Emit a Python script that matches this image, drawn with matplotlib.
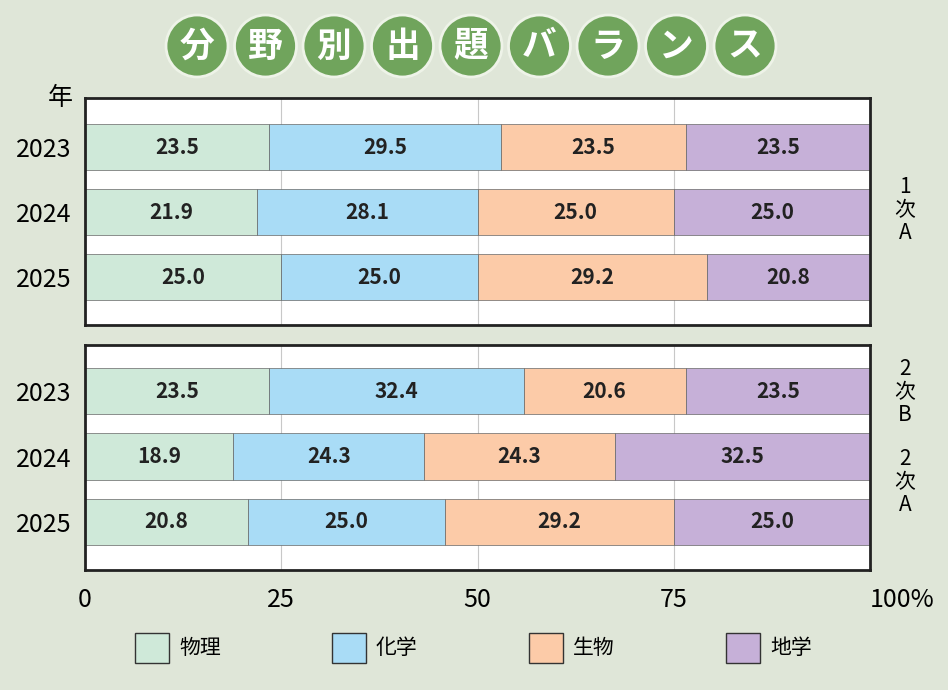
import matplotlib
matplotlib.use("Agg")
import matplotlib.pyplot as plt
from matplotlib.patches import Circle, Rectangle

plt.rcParams["font.family"] = ["Noto Sans CJK JP", "DejaVu Sans"]

BG = "#dfe6d8"
COLORS = ["#cfe9d9", "#a9dcf6", "#fccba8", "#c6b0d8"]
FIELDS = ["物理", "化学", "生物", "地学"]
YEARS = ["2023", "2024", "2025"]
TOP = [[23.5, 29.5, 23.5, 23.5], [21.9, 28.1, 25.0, 25.0], [25.0, 25.0, 29.2, 20.8]]
BOTTOM = [[23.5, 32.4, 20.6, 23.5], [18.9, 24.3, 24.3, 32.5], [20.8, 25.0, 29.2, 25.0]]
TICKS = [0, 25, 50, 75, 100]
TICK_LABELS = ["0", "25", "50", "75", "100%"]
TITLE = "分野別出題バランス"

W, H = 948, 690
fig = plt.figure(figsize=(W / 100, H / 100), dpi=100, facecolor=BG)


def px_axes(x0, y0, x1, y1):
    return fig.add_axes([x0 / W, 1 - y1 / H, (x1 - x0) / W, (y1 - y0) / H])


def draw_panel(ax, data, ytop, ybot):
    ax.set_facecolor("white")
    ax.set_xlim(0, 100)
    ax.set_ylim(ybot, ytop)
    for t in TICKS[1:-1]:
        ax.axvline(t, color="#c8c8c8", lw=0.8, zorder=0)
    for i, row in enumerate(data):
        left = 0
        for v, c in zip(row, COLORS):
            ax.barh(i, v, left=left, height=0.71, color=c, edgecolor="#666666", lw=0.5, zorder=2)
            ax.text(left + v / 2, i, f"{v:.1f}", ha="center", va="center",
                    fontsize=15, fontweight="bold", color="#222222", zorder=3)
            left += v
    ax.set_yticks(range(3))
    ax.set_yticklabels(YEARS, fontsize=18)
    ax.tick_params(length=0, pad=10)
    for s in ax.spines.values():
        s.set_linewidth(2)
        s.set_color("#222222")


ax1 = px_axes(85, 98, 870, 325)
draw_panel(ax1, TOP, -0.754, 2.738)
ax1.set_xticks([])
ax2 = px_axes(85, 345, 870, 570)
draw_panel(ax2, BOTTOM, -0.71, 2.74)
ax2.set_xticks(TICKS)
ax2.set_xticklabels(TICK_LABELS, fontsize=18)
ax2.tick_params(axis="x", pad=12)
last = ax2.get_xticklabels()[-1]
last.set_horizontalalignment("left")
last.set_x(97.2)

fig.text(60 / W, 1 - 98 / H, "年", fontsize=18, ha="center", va="center")
for txt, y in [("1\n次\nA", 210), ("2\n次\nB", 392), ("2\n次\nA", 482)]:
    fig.text(905 / W, 1 - y / H, txt, fontsize=15, ha="center", va="center", linespacing=1.05)

# title
tax = fig.add_axes([0, 0, 1, 1])
tax.set_xlim(0, W)
tax.set_ylim(H, 0)
tax.axis("off")
for i, ch in enumerate(TITLE):
    cx = 197 + i * 68.5
    tax.add_patch(Circle((cx, 46), 31, facecolor="#70a45c", edgecolor="#eef3e8", lw=2))
    tax.text(cx, 46, ch, ha="center", va="center", fontsize=25, fontweight="bold", color="white")

# legend
for i, (f, c) in enumerate(zip(FIELDS, COLORS)):
    x = 135 + i * 197
    tax.add_patch(Rectangle((x, 633), 34, 30, facecolor=c, edgecolor="#333333", lw=1))
    tax.text(x + 44, 648, f, ha="left", va="center", fontsize=15)

fig.savefig("out.png", dpi=100, facecolor=BG)
